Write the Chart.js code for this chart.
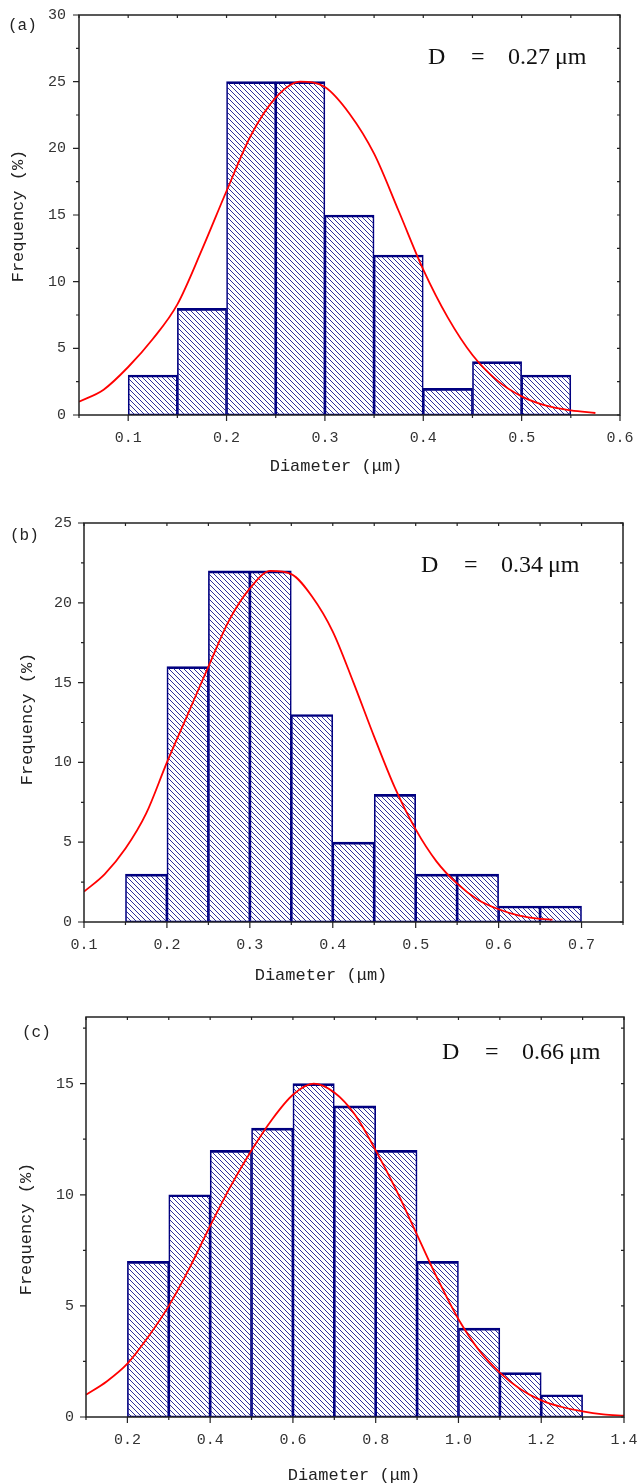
<!DOCTYPE html>
<html>
<head>
<meta charset="utf-8">
<script src="https://cdn.jsdelivr.net/npm/chart.js@4"></script>
<style>
  body { margin: 0; background: #fff; width: 639px; height: 1483px; position: relative; overflow: hidden; }
  canvas { position: absolute; left: 0; }
</style>
</head>
<body>
<canvas id="chartA" width="639" height="490" style="top:0px"></canvas>
<canvas id="chartB" width="639" height="510" style="top:490px"></canvas>
<canvas id="chartC" width="639" height="483" style="top:1000px"></canvas>
<script>
// ===== DATA =====
// (a)
var binStartA = [0.10, 0.15, 0.20, 0.25, 0.30, 0.35, 0.40, 0.45, 0.50];
var freqA = [3, 8, 25, 25, 15, 12, 2, 4, 3];
var fitXA = [0.05, 0.075, 0.1, 0.125, 0.15, 0.175, 0.2, 0.225, 0.25, 0.275, 0.3, 0.325, 0.35, 0.375, 0.4, 0.425, 0.45, 0.475, 0.5, 0.525, 0.55, 0.575];
var fitYA = [1.0, 1.9, 3.6, 5.7, 8.3, 12.4, 16.8, 21.0, 23.8, 25.0, 24.6, 22.6, 19.6, 15.3, 10.9, 7.3, 4.5, 2.6, 1.4, 0.7, 0.35, 0.15];
var xTicksA = [0.1, 0.2, 0.3, 0.4, 0.5, 0.6];
var yTicksA = [0, 5, 10, 15, 20, 25, 30];

// (b)
var binStartB = [0.15, 0.20, 0.25, 0.30, 0.35, 0.40, 0.45, 0.50, 0.55, 0.60, 0.65];
var freqB = [3, 16, 22, 22, 13, 5, 8, 3, 3, 1, 1];
var fitXB = [0.1, 0.125, 0.15, 0.175, 0.2, 0.225, 0.25, 0.275, 0.3, 0.325, 0.35, 0.375, 0.4, 0.425, 0.45, 0.475, 0.5, 0.525, 0.55, 0.575, 0.6, 0.625, 0.65, 0.665];
var fitYB = [1.9, 3.0, 4.6, 6.8, 10.0, 13.0, 16.0, 18.9, 20.9, 22.0, 21.8, 20.4, 18.2, 15.0, 11.6, 8.4, 5.8, 3.8, 2.4, 1.4, 0.8, 0.4, 0.2, 0.15];
var xTicksB = [0.1, 0.2, 0.3, 0.4, 0.5, 0.6, 0.7];
var yTicksB = [0, 5, 10, 15, 20, 25];

// (c)
var binStartC = [0.2, 0.3, 0.4, 0.5, 0.6, 0.7, 0.8, 0.9, 1.0, 1.1, 1.2];
var freqC = [7, 10, 12, 13, 15, 14, 12, 7, 4, 2, 1];
var fitXC = [0.1, 0.15, 0.2, 0.25, 0.3, 0.35, 0.4, 0.45, 0.5, 0.55, 0.6, 0.65, 0.7, 0.75, 0.8, 0.85, 0.9, 0.95, 1.0, 1.05, 1.1, 1.15, 1.2, 1.25, 1.3, 1.35, 1.4];
var fitYC = [1.0, 1.6, 2.4, 3.6, 5.0, 6.7, 8.6, 10.4, 12.0, 13.4, 14.5, 15.0, 14.6, 13.6, 12.0, 10.2, 8.2, 6.2, 4.4, 3.0, 2.0, 1.25, 0.75, 0.45, 0.25, 0.12, 0.06];
var xTicksC = [0.2, 0.4, 0.6, 0.8, 1.0, 1.2, 1.4];
var yTicksC = [0, 5, 10, 15];

var MONO = '"Liberation Mono", "DejaVu Sans Mono", monospace';
var SERIF = '"Liberation Serif", "DejaVu Serif", serif';

function hatchPattern() {
    var c = document.createElement('canvas');
    c.width = 5; c.height = 5;
    var g = c.getContext('2d');
    g.strokeStyle = '#1a1a90';
    g.lineWidth = 0.9;
    g.beginPath();
    g.moveTo(0, 0); g.lineTo(5, 5);
    g.moveTo(-1, 4); g.lineTo(1, 6);
    g.moveTo(4, -1); g.lineTo(6, 1);
    g.stroke();
    return g.createPattern(c, 'repeat');
}

// frame, minor ticks and the extra texts
var decoPlugin = {
    id: 'deco',
    afterDraw: function (chart, args, o) {
        var ctx = chart.ctx, a = chart.chartArea;
        var x = chart.scales.x, y = chart.scales.y;
        ctx.save();
        ctx.strokeStyle = '#222';
        ctx.lineWidth = 1.5;
        ctx.strokeRect(a.left, a.top, a.right - a.left, a.bottom - a.top);

        ctx.lineWidth = 1.2;
        ctx.beginPath();
        var i, v, px, major;
        var nx = Math.round((x.max - x.min) / o.xMinor);
        for (i = 0; i <= nx; i++) {
            v = x.min + i * o.xMinor;
            px = x.getPixelForValue(v);
            major = x.ticks.some(function (t) { return Math.abs(t.value - v) < 1e-6; });
            ctx.moveTo(px, a.bottom); ctx.lineTo(px, a.bottom + (major ? 6 : 3));
            ctx.moveTo(px, a.top); ctx.lineTo(px, a.top + 3);
        }
        var ny = Math.floor((y.max - y.min) / o.yMinor + 1e-6);
        for (i = 0; i <= ny; i++) {
            v = y.min + i * o.yMinor;
            px = y.getPixelForValue(v);
            major = y.ticks.some(function (t) { return Math.abs(t.value - v) < 1e-6; });
            ctx.moveTo(a.left, px); ctx.lineTo(a.left - (major ? 6 : 3), px);
            ctx.moveTo(a.right, px); ctx.lineTo(a.right - 3, px);
        }
        ctx.stroke();

        ctx.fillStyle = '#222';
        ctx.font = '16px ' + MONO;
        ctx.textAlign = 'left';
        ctx.textBaseline = 'middle';
        ctx.fillText(o.letter, o.letterX, o.letterY);

        ctx.font = '17px ' + MONO;
        ctx.textAlign = 'center';
        ctx.fillText('Diameter (\u03bcm)', o.diamX, o.diamY);

        ctx.save();
        ctx.translate(o.freqX, o.freqY);
        ctx.rotate(-Math.PI / 2);
        ctx.fillText('Frequency (%)', 0, 0);
        ctx.restore();

        ctx.fillStyle = '#111';
        ctx.font = '24px ' + SERIF;
        ctx.textAlign = 'left';
        ctx.textBaseline = 'alphabetic';
        ctx.fillText('D', o.dX, o.dY);
        ctx.fillText('=', o.dX + 43, o.dY);
        ctx.fillText(o.dValue, o.dX + 80, o.dY);
        ctx.fillText('\u03bcm', o.dX + 127, o.dY);
        ctx.restore();
    }
};

function makeChart(id, binStart, binW, freq, fitX, fitY, xTicks, yTicks, p) {
    var bars = binStart.map(function (s, i) { return { x: s + binW / 2, y: freq[i] }; });
    var curve = fitX.map(function (xv, i) { return { x: xv, y: fitY[i] }; });
    var tickFont = { family: MONO, size: 15 };

    new Chart(document.getElementById(id).getContext('2d'), {
        type: 'bar',
        data: {
            datasets: [{
                type: 'line',
                data: curve,
                borderColor: '#ff0000',
                borderWidth: 1.8,
                pointRadius: 0,
                cubicInterpolationMode: 'monotone',
                fill: false,
                order: 0
            }, {
                type: 'bar',
                data: bars,
                backgroundColor: hatchPattern(),
                borderColor: '#000080',
                borderWidth: { top: 2, left: 1, right: 1, bottom: 1 },
                borderSkipped: false,
                barPercentage: 1,
                categoryPercentage: 1,
                order: 1
            }]
        },
        options: {
            responsive: false,
            animation: false,
            layout: { padding: { left: 0, top: p.top, right: p.right, bottom: 0 } },
            plugins: {
                legend: { display: false },
                tooltip: { enabled: false },
                deco: p.deco
            },
            scales: {
                x: {
                    type: 'linear',
                    offset: false,
                    min: p.xMin, max: p.xMax,
                    afterBuildTicks: function (s) { s.ticks = xTicks.map(function (v) { return { value: v }; }); },
                    afterFit: function (s) {
                        s.height = p.xHeight;
                        s.paddingLeft = 0;
                        s.paddingRight = 0;
                    },
                    ticks: {
                        color: '#333', font: tickFont, padding: 6, maxRotation: 0, autoSkip: false,
                        callback: function (v) { return Number(v).toFixed(1); }
                    },
                    grid: { display: false, offset: false },
                    border: { display: false }
                },
                y: {
                    min: 0, max: p.yMax,
                    afterBuildTicks: function (s) { s.ticks = yTicks.map(function (v) { return { value: v }; }); },
                    afterFit: function (s) {
                        s.width = p.yWidth;
                        s.paddingTop = 0;
                        s.paddingBottom = 0;
                    },
                    ticks: { color: '#333', font: tickFont, padding: p.yPad },
                    grid: { display: false },
                    border: { display: false }
                }
            }
        },
        plugins: [decoPlugin]
    });
}

makeChart('chartA', binStartA, 0.05, freqA, fitXA, fitYA, xTicksA, yTicksA, {
    xMin: 0.05, xMax: 0.6, yMax: 30,
    top: 15, right: 19, yWidth: 79, xHeight: 75, yPad: 5,
    deco: { xMinor: 0.05, yMinor: 2.5, letter: '(a)', letterX: 8, letterY: 26,
            freqX: 18, freqY: 216, diamX: 336, diamY: 466,
            dX: 428, dY: 64, dValue: '0.27' }
});

makeChart('chartB', binStartB, 0.05, freqB, fitXB, fitYB, xTicksB, yTicksB, {
    xMin: 0.1, xMax: 0.75, yMax: 25,
    top: 33, right: 16, yWidth: 84, xHeight: 78, yPad: 4,
    deco: { xMinor: 0.05, yMinor: 2.5, letter: '(b)', letterX: 10, letterY: 46,
            freqX: 27, freqY: 229, diamX: 321, diamY: 485,
            dX: 421, dY: 82, dValue: '0.34' }
});

makeChart('chartC', binStartC, 0.1, freqC, fitXC, fitYC, xTicksC, yTicksC, {
    xMin: 0.1, xMax: 1.4, yMax: 18,
    top: 17, right: 15, yWidth: 86, xHeight: 66, yPad: 4,
    deco: { xMinor: 0.1, yMinor: 2.5, letter: '(c)', letterX: 22, letterY: 33,
            freqX: 26, freqY: 229, diamX: 354, diamY: 475,
            dX: 442, dY: 59, dValue: '0.66' }
});
</script>
</body>
</html>
